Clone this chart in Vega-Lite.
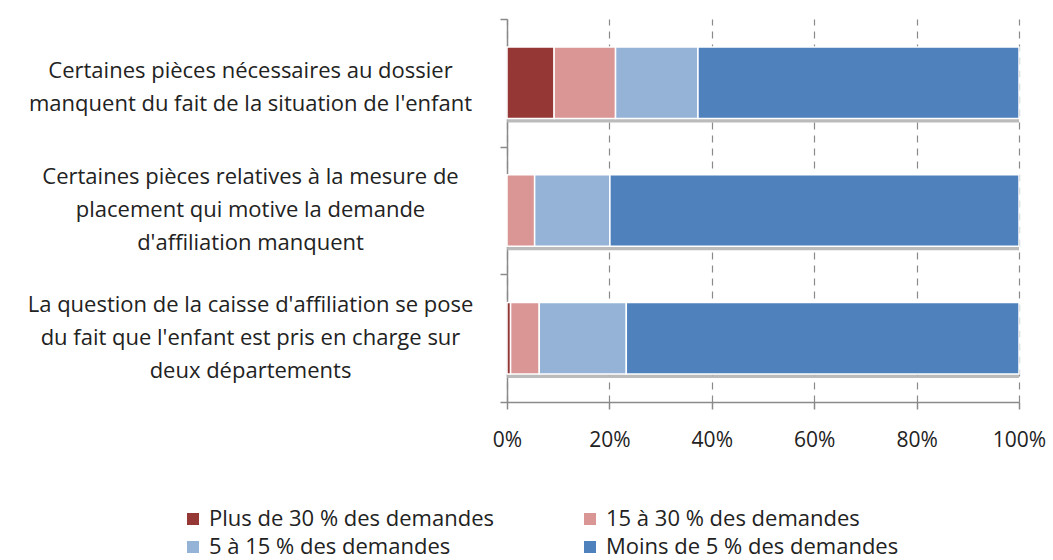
{
  "$schema": "https://vega.github.io/schema/vega-lite/v6.json",
  "autosize": {"type": "none"},
  "padding": {"left": 507, "top": 19, "right": 34, "bottom": 158},
  "width": 512,
  "height": 383,
  "background": "white",
  "config": {"view": {"stroke": null}, "font": "Open Sans"},
  "data": {"values": [
    {"q": "Certaines pièces nécessaires au dossier|manquent du fait de la situation de l'enfant", "cls": "Plus de 30 % des demandes", "rank": 1, "pct": 9.2},
    {"q": "Certaines pièces nécessaires au dossier|manquent du fait de la situation de l'enfant", "cls": "15 à 30 % des demandes", "rank": 2, "pct": 12.0},
    {"q": "Certaines pièces nécessaires au dossier|manquent du fait de la situation de l'enfant", "cls": "5 à 15 % des demandes", "rank": 3, "pct": 16.1},
    {"q": "Certaines pièces nécessaires au dossier|manquent du fait de la situation de l'enfant", "cls": "Moins de 5 % des demandes", "rank": 4, "pct": 62.7},
    {"q": "Certaines pièces relatives à la mesure de|placement qui motive la demande|d'affiliation manquent", "cls": "Plus de 30 % des demandes", "rank": 1, "pct": 0},
    {"q": "Certaines pièces relatives à la mesure de|placement qui motive la demande|d'affiliation manquent", "cls": "15 à 30 % des demandes", "rank": 2, "pct": 5.4},
    {"q": "Certaines pièces relatives à la mesure de|placement qui motive la demande|d'affiliation manquent", "cls": "5 à 15 % des demandes", "rank": 3, "pct": 14.7},
    {"q": "Certaines pièces relatives à la mesure de|placement qui motive la demande|d'affiliation manquent", "cls": "Moins de 5 % des demandes", "rank": 4, "pct": 79.9},
    {"q": "La question de la caisse d'affiliation se pose|du fait que l'enfant est pris en charge sur|deux départements", "cls": "Plus de 30 % des demandes", "rank": 1, "pct": 0.7},
    {"q": "La question de la caisse d'affiliation se pose|du fait que l'enfant est pris en charge sur|deux départements", "cls": "15 à 30 % des demandes", "rank": 2, "pct": 5.6},
    {"q": "La question de la caisse d'affiliation se pose|du fait que l'enfant est pris en charge sur|deux départements", "cls": "5 à 15 % des demandes", "rank": 3, "pct": 17.0},
    {"q": "La question de la caisse d'affiliation se pose|du fait que l'enfant est pris en charge sur|deux départements", "cls": "Moins de 5 % des demandes", "rank": 4, "pct": 76.7}
  ]},
  "encoding": {
    "y": {
      "field": "q", "type": "nominal", "sort": null,
      "scale": {"paddingInner": 0, "paddingOuter": 0},
      "axis": {
        "title": null,
        "labelExpr": "split(datum.label, '|')",
        "labelAlign": "center",
        "labelBaseline": "middle",
        "labelPadding": 250,
        "labelOffset": {"condition": {"test": "length(split(datum.value, '|')) == 2", "value": -12}, "value": -34},
        "labelLimit": 0,
        "labelFont": "Open Sans",
        "labelFontSize": 22,
        "labelLineHeight": 33,
        "labelColor": "#222222",
        "tickBand": "extent",
        "tickSize": 7,
        "tickColor": "#8a8a8a",
        "tickWidth": 1.5,
        "domainColor": "#8a8a8a",
        "domainWidth": 1.5,
        "grid": false
      }
    }
  },
  "layer": [
    {
      "transform": [{"filter": "datum.rank == 4"}],
      "mark": {"type": "bar", "height": {"band": 0.56}, "yOffset": 4, "color": "#b4b4b4", "opacity": 0.9},
      "encoding": {
        "x": {"datum": 0, "type": "quantitative"},
        "x2": {"datum": 1}
      }
    },
    {
      "mark": {"type": "bar", "height": {"band": 0.56}, "stroke": "white", "strokeWidth": 1.5},
      "encoding": {
        "x": {
          "field": "pct", "type": "quantitative", "stack": "normalize",
          "scale": {"domain": [0, 1]},
          "axis": {
            "title": null,
            "values": [0, 0.2, 0.4, 0.6, 0.8, 1],
            "format": ".0%",
            "labelFont": "Open Sans",
            "labelFontSize": 21,
            "labelColor": "#222222",
            "labelPadding": 20,
            "labelFlush": false,
            "tickSize": 7,
            "tickColor": "#8a8a8a",
            "tickWidth": 1.5,
            "domainColor": "#8a8a8a",
            "domainWidth": 1.5,
            "grid": true,
            "gridColor": "#8a8a8a",
            "gridDash": [7, 6],
            "gridWidth": 1.2
          }
        },
        "color": {
          "field": "cls", "type": "nominal",
          "scale": {
            "domain": ["Plus de 30 % des demandes", "5 à 15 % des demandes", "15 à 30 % des demandes", "Moins de 5 % des demandes"],
            "range": ["#953735", "#95B3D7", "#D99694", "#4F81BD"]
          },
          "legend": {
            "title": null,
            "orient": "none",
            "legendX": -325,
            "legendY": 489,
            "columns": 2,
            "columnPadding": 85,
            "rowPadding": 6,
            "symbolType": "square",
            "symbolSize": 144,
            "symbolStrokeWidth": 0,
            "labelFont": "Open Sans",
            "labelFontSize": 22,
            "labelColor": "#222222",
            "labelLimit": 0,
            "labelOffset": 5
          }
        },
        "order": {"field": "rank", "type": "quantitative"}
      }
    }
  ]
}
